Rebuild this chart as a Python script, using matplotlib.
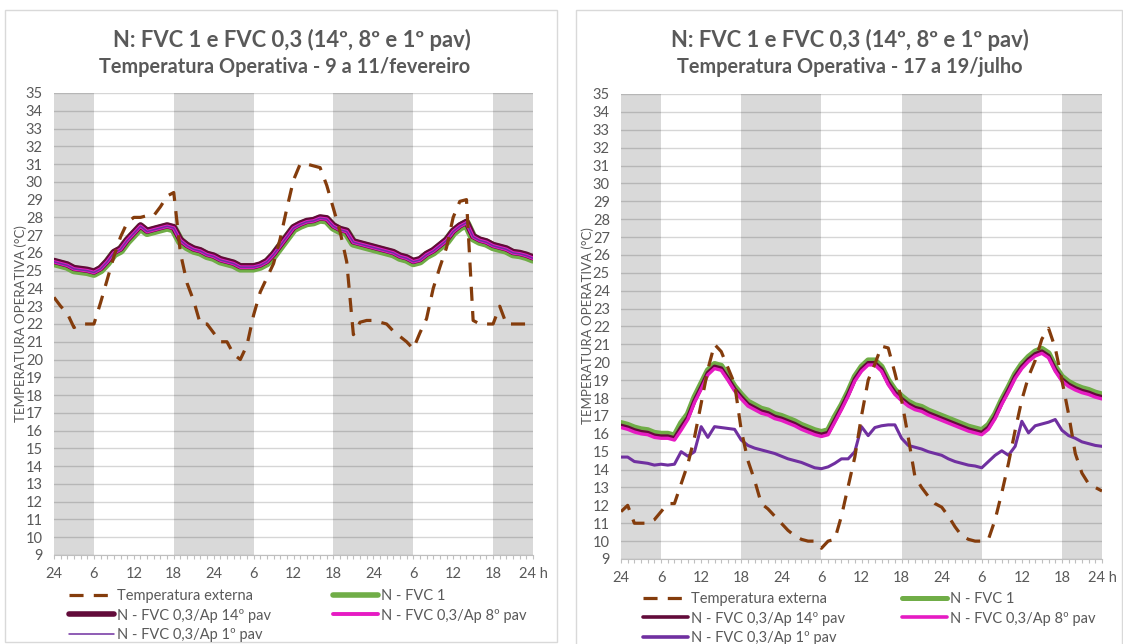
import matplotlib
matplotlib.use("Agg")
import matplotlib.pyplot as plt
from matplotlib.lines import Line2D
from matplotlib.patches import Rectangle

# ---------------------------------------------------------------- data
hours = list(range(73))
tick_hours = [0, 6, 12, 18, 24, 30, 36, 42, 48, 54, 60, 66, 72]
tick_labels = ["24", "6", "12", "18", "24", "6", "12", "18", "24", "6", "12", "18", "24 h"]
night_spans = [(0, 6), (18, 30), (42, 54), (66, 72)]
y_ticks = list(range(9, 36))

series_names = ["Temperatura externa", "N - FVC 1", "N - FVC 0,3/Ap 14º pav",
                "N - FVC 0,3/Ap 8º pav", "N - FVC 0,3/Ap 1º pav"]

title_main = "N: FVC 1 e FVC 0,3 (14º, 8º e 1º pav)"
subtitle_feb = "Temperatura Operativa - 9 a 11/fevereiro"
subtitle_jul = "Temperatura Operativa - 17 a 19/julho"
ylabel = "TEMPERATURA OPERATIVA (°C)"

# 9 a 11 de fevereiro
feb_ext = [23.5, 23.0, 22.6, 21.8, 22.0, 22.0, 22.0, 23.2, 24.5, 25.8,
           26.9, 27.7, 28.0, 28.0, 28.1, 28.1, 28.6, 29.2, 29.4, 26.0,
           24.3, 23.3, 22.0, 22.0, 21.5, 21.0, 21.0, 20.3, 20.0, 20.8,
           22.5, 23.8, 24.6, 25.4, 26.8, 28.5, 30.1, 31.0, 31.0, 30.9,
           30.8, 29.8, 28.5, 27.2, 25.5, 21.4, 22.1, 22.2, 22.2, 22.1,
           22.0, 21.6, 21.3, 21.0, 20.6, 21.5, 22.3, 24.0, 25.2, 26.3,
           28.0, 28.9, 29.0, 22.2, 22.0, 22.0, 22.0, 23.0, 22.0, 22.0,
           22.0, 22.0, 22.0]
feb_fvc1 = [25.45, 25.35, 25.25, 25.05, 25.0, 24.95, 24.85, 25.05, 25.45, 25.95,
            26.15, 26.65, 27.05, 27.45, 27.15, 27.25, 27.35, 27.45, 27.35, 26.65,
            26.35, 26.15, 26.05, 25.85, 25.75, 25.55, 25.45, 25.35, 25.15, 25.15,
            25.15, 25.25, 25.45, 25.85, 26.35, 26.85, 27.35, 27.55, 27.7, 27.75,
            27.9, 27.85, 27.45, 27.25, 27.15, 26.55, 26.45, 26.35, 26.25, 26.15,
            26.05, 25.95, 25.75, 25.65, 25.45, 25.55, 25.85, 26.05, 26.35, 26.65,
            27.15, 27.45, 27.65, 26.85, 26.65, 26.55, 26.35, 26.25, 26.15, 25.95,
            25.9, 25.8, 25.65]
feb_p14 = [25.55, 25.45, 25.35, 25.15, 25.1, 25.05, 24.95, 25.15, 25.55, 26.05,
           26.25, 26.75, 27.15, 27.55, 27.25, 27.35, 27.45, 27.55, 27.45, 26.75,
           26.45, 26.25, 26.15, 25.95, 25.85, 25.65, 25.55, 25.45, 25.25, 25.25,
           25.25, 25.35, 25.55, 25.95, 26.45, 26.95, 27.45, 27.65, 27.8, 27.85,
           28.0, 27.95, 27.55, 27.35, 27.25, 26.65, 26.55, 26.45, 26.35, 26.25,
           26.15, 26.05, 25.85, 25.75, 25.55, 25.65, 25.95, 26.15, 26.45, 26.75,
           27.25, 27.55, 27.75, 26.95, 26.75, 26.65, 26.45, 26.35, 26.25, 26.05,
           26.0, 25.9, 25.75]
feb_p8 = [25.5, 25.4, 25.3, 25.1, 25.05, 25.0, 24.9, 25.1, 25.5, 26.0,
          26.2, 26.7, 27.1, 27.5, 27.2, 27.3, 27.4, 27.5, 27.4, 26.7,
          26.4, 26.2, 26.1, 25.9, 25.8, 25.6, 25.5, 25.4, 25.2, 25.2,
          25.2, 25.3, 25.5, 25.9, 26.4, 26.9, 27.4, 27.6, 27.75, 27.8,
          27.95, 27.9, 27.5, 27.3, 27.2, 26.6, 26.5, 26.4, 26.3, 26.2,
          26.1, 26.0, 25.8, 25.7, 25.5, 25.6, 25.9, 26.1, 26.4, 26.7,
          27.2, 27.5, 27.7, 26.9, 26.7, 26.6, 26.4, 26.3, 26.2, 26.0,
          25.95, 25.85, 25.7]
feb_p1 = [25.5, 25.4, 25.3, 25.1, 25.05, 25.0, 24.9, 25.1, 25.5, 26.0,
          26.2, 26.7, 27.1, 27.5, 27.2, 27.3, 27.4, 27.5, 27.4, 26.7,
          26.4, 26.2, 26.1, 25.9, 25.8, 25.6, 25.5, 25.4, 25.2, 25.2,
          25.2, 25.3, 25.5, 25.9, 26.4, 26.9, 27.4, 27.6, 27.75, 27.8,
          27.95, 27.9, 27.5, 27.3, 27.2, 26.6, 26.5, 26.4, 26.3, 26.2,
          26.1, 26.0, 25.8, 25.7, 25.5, 25.6, 25.9, 26.1, 26.4, 26.7,
          27.2, 27.5, 27.7, 26.9, 26.7, 26.6, 26.4, 26.3, 26.2, 26.0,
          25.95, 25.85, 25.7]

# 17 a 19 de julho
jul_ext = [11.65, 12.0, 11.0, 11.0, 11.0, 11.2, 11.65, 12.1, 12.1, 13.2,
           14.3, 15.8, 17.7, 19.6, 21.0, 20.6, 19.7, 18.8, 16.2, 14.5,
           13.4, 12.1, 11.8, 11.4, 11.0, 10.6, 10.3, 10.1, 10.0, 10.0,
           9.6, 10.0, 10.1, 11.4, 13.05, 14.7, 17.0, 19.0, 19.9, 20.9,
           20.8, 19.4, 17.9, 15.8, 13.6, 13.0, 12.5, 12.1, 11.9, 11.4,
           10.8, 10.3, 10.1, 10.0, 10.0, 10.1, 11.2, 12.7, 14.35, 16.2,
           17.9, 19.2, 20.1, 21.3, 21.9, 20.8, 19.0, 17.1, 14.9, 13.8,
           13.2, 13.0, 12.8]
jul_fvc1 = [16.6, 16.5, 16.35, 16.25, 16.2, 16.05, 16.0, 16.0, 15.9, 16.6,
            17.1, 18.05, 18.8, 19.55, 19.9, 19.8, 19.25, 18.65, 18.2, 17.8,
            17.6, 17.4, 17.3, 17.1, 17.0, 16.85, 16.7, 16.5, 16.35, 16.2,
            16.1, 16.2, 16.95, 17.6, 18.35, 19.2, 19.75, 20.1, 20.1, 19.75,
            19.0, 18.45, 18.1, 17.8, 17.6, 17.5, 17.3, 17.15, 17.0, 16.85,
            16.7, 16.55, 16.4, 16.3, 16.2, 16.5, 17.1, 17.9, 18.6, 19.35,
            19.9, 20.3, 20.6, 20.75, 20.5, 19.75, 19.2, 18.9, 18.7, 18.55,
            18.45, 18.3, 18.2]
jul_p14 = [16.45, 16.35, 16.2, 16.1, 16.05, 15.9, 15.85, 15.85, 15.75, 16.35,
           16.9, 17.85, 18.6, 19.4, 19.75, 19.65, 19.1, 18.5, 18.05, 17.65,
           17.45, 17.25, 17.15, 16.95, 16.85, 16.7, 16.55, 16.35, 16.2, 16.05,
           15.95, 16.05, 16.75, 17.45, 18.2, 19.05, 19.6, 19.95, 19.95, 19.6,
           18.85, 18.3, 17.95, 17.65, 17.45, 17.35, 17.15, 17.0, 16.85, 16.7,
           16.55, 16.4, 16.25, 16.15, 16.05, 16.35, 16.95, 17.75, 18.45, 19.2,
           19.75, 20.15, 20.45, 20.6, 20.35, 19.6, 19.05, 18.75, 18.55, 18.4,
           18.3, 18.15, 18.05]
jul_p8 = [16.35, 16.25, 16.1, 16.0, 15.95, 15.8, 15.75, 15.75, 15.65, 16.2,
          16.8, 17.75, 18.5, 19.3, 19.65, 19.55, 19.0, 18.4, 17.95, 17.55,
          17.35, 17.15, 17.05, 16.85, 16.75, 16.6, 16.45, 16.25, 16.1, 15.95,
          15.85, 15.95, 16.65, 17.35, 18.1, 18.95, 19.5, 19.85, 19.85, 19.5,
          18.75, 18.2, 17.85, 17.55, 17.35, 17.25, 17.05, 16.9, 16.75, 16.6,
          16.45, 16.3, 16.15, 16.05, 15.95, 16.25, 16.85, 17.65, 18.35, 19.1,
          19.65, 20.05, 20.35, 20.5, 20.25, 19.5, 18.95, 18.65, 18.45, 18.3,
          18.2, 18.05, 17.95]
jul_p1 = [14.7, 14.7, 14.45, 14.4, 14.35, 14.25, 14.3, 14.25, 14.3, 15.0,
          14.75, 15.0, 16.4, 15.8, 16.4, 16.35, 16.3, 16.25, 15.65, 15.35,
          15.2, 15.1, 15.0, 14.9, 14.75, 14.6, 14.5, 14.4, 14.25, 14.1,
          14.05, 14.15, 14.35, 14.6, 14.6, 15.0, 16.4, 15.9, 16.35, 16.45,
          16.5, 16.5, 15.75, 15.35, 15.25, 15.15, 15.0, 14.9, 14.8, 14.6,
          14.45, 14.35, 14.25, 14.2, 14.1, 14.45, 14.8, 15.05, 14.8, 15.3,
          16.7, 16.05, 16.45, 16.55, 16.65, 16.8, 16.2, 15.9, 15.75, 15.55,
          15.45, 15.35, 15.3]

# ---------------------------------------------------------------- style
W, H = 1123, 644
FONT = ["Lato", "DejaVu Sans"]
plt.rcParams["font.family"] = FONT
TXT = "#595959"
C_EXT = "#843C0C"
C_FVC1 = "#70AD47"
C_P14 = "#620B3A"
C_P8 = "#E61BC3"
C_P1 = "#7030A0"
BAND = "#D9D9D9"
DASH = (4.4, 3.2)

fig = plt.figure(figsize=(W / 100, H / 100), dpi=100)


def fx(x):
    return x / W


def fy(y):
    return 1 - y / H


def axes_px(x0, y0, x1, y1):
    return fig.add_axes([fx(x0), fy(y1), (x1 - x0) / W, (y1 - y0) / H])


def panel_frame(x0, y0, x1, y1):
    fig.patches.append(Rectangle((fx(x0), fy(y1)), (x1 - x0) / W, (y1 - y0) / H,
                                 transform=fig.transFigure, fill=False,
                                 edgecolor="#D9D9D9", lw=1.0, zorder=0))


def draw_chart(ax, ext, fvc1, p14, p8, p1, lw):
    for a, b in night_spans:
        ax.axvspan(a, b, color=BAND, lw=0, zorder=0)
    for v in y_ticks:
        ax.axhline(v, color="black", alpha=0.16, lw=1.0, zorder=0.5)
    ax.plot(hours, fvc1, color=C_FVC1, lw=lw["fvc1"], solid_capstyle="round",
            solid_joinstyle="round", zorder=2)
    ax.plot(hours, p14, color=C_P14, lw=lw["p14"], solid_capstyle="round",
            solid_joinstyle="round", zorder=3)
    ax.plot(hours, p8, color=C_P8, lw=lw["p8"], solid_capstyle="round",
            solid_joinstyle="round", zorder=4)
    ax.plot(hours, p1, color=C_P1, lw=lw["p1"], solid_capstyle="round",
            solid_joinstyle="round", zorder=lw["p1_z"])
    ax.plot(hours, ext, color=C_EXT, lw=2.3, dashes=DASH, zorder=6)

    ax.set_xlim(0, 72)
    ax.set_ylim(9, 35)
    ax.set_xticks(tick_hours)
    ax.set_xticklabels(tick_labels)
    ax.set_xticks(hours, minor=True)
    ax.set_yticks(y_ticks)
    ax.tick_params(axis="x", which="both", direction="out", length=3, width=0.8,
                   color="#BFBFBF", labelsize=10.5, labelcolor=TXT, pad=6)
    ax.tick_params(axis="y", length=0, labelsize=10.5, labelcolor=TXT, pad=8)
    for s in ("top", "right", "left"):
        ax.spines[s].set_visible(False)
    ax.spines["bottom"].set_color("#BFBFBF")
    ax.spines["bottom"].set_linewidth(0.8)
    ax.set_facecolor("white")


def legend_handles(lw):
    return {
        "ext": Line2D([], [], color=C_EXT, lw=2.3, dashes=DASH),
        "fvc1": Line2D([], [], color=C_FVC1, lw=lw["fvc1_leg"], solid_capstyle="round"),
        "p14": Line2D([], [], color=C_P14, lw=lw["p14_leg"], solid_capstyle="round"),
        "p8": Line2D([], [], color=C_P8, lw=lw["p8_leg"], solid_capstyle="round"),
        "p1": Line2D([], [], color=C_P1, lw=lw["p1_leg"], solid_capstyle="round"),
    }


def add_legends(hd, x_col1, x_col2, y_top):
    common = dict(loc="upper left", frameon=False, fontsize=10.5, handlelength=3.1,
                  handletextpad=0.2, labelspacing=0.38, borderpad=0,
                  borderaxespad=0, labelcolor=TXT)
    fig.legend([hd["ext"], hd["p14"], hd["p1"]],
               [series_names[0], series_names[2], series_names[4]],
               bbox_to_anchor=(fx(x_col1), fy(y_top)), **common)
    fig.legend([hd["fvc1"], hd["p8"]],
               [series_names[1], series_names[3]],
               bbox_to_anchor=(fx(x_col2), fy(y_top)), **common)


# ---------------------------------------------------------------- left panel
panel_frame(5, 10, 557, 642)
lw_feb = dict(fvc1=6.5, p14=4.6, p8=2.6, p1=1.1, p1_z=4.5,
              fvc1_leg=4.0, p14_leg=4.0, p8_leg=2.8, p1_leg=1.1)
ax1 = axes_px(54, 93, 533, 555)
draw_chart(ax1, feb_ext, feb_fvc1, feb_p14, feb_p8, feb_p1, lw_feb)
fig.text(fx(292), fy(40), title_main, ha="center", va="center",
         fontsize=15.8, fontweight="bold", color=TXT)
fig.text(fx(285), fy(67), subtitle_feb, ha="center", va="center",
         fontsize=14.3, fontweight="bold", color=TXT)
fig.text(fx(21), fy(324), ylabel, rotation=90, ha="center", va="center",
         fontsize=9.5, color=TXT, zorder=10)
add_legends(legend_handles(lw_feb), 69, 333, 589)

# ---------------------------------------------------------------- right panel
panel_frame(576, 10, 1122, 660)
lw_jul = dict(fvc1=4.4, p14=3.1, p8=2.4, p1=2.2, p1_z=5,
              fvc1_leg=3.6, p14_leg=2.6, p8_leg=2.6, p1_leg=2.6)
ax2 = axes_px(621, 94, 1102, 559)
draw_chart(ax2, jul_ext, jul_fvc1, jul_p14, jul_p8, jul_p1, lw_jul)
fig.text(fx(850), fy(40), title_main, ha="center", va="center",
         fontsize=15.8, fontweight="bold", color=TXT)
fig.text(fx(850), fy(67), subtitle_jul, ha="center", va="center",
         fontsize=14.3, fontweight="bold", color=TXT)
fig.text(fx(588), fy(326), ylabel, rotation=90, ha="center", va="center",
         fontsize=9.5, color=TXT, zorder=10)
add_legends(legend_handles(lw_jul), 643, 902, 592)

fig.savefig("out.png", dpi=100, facecolor="white")
